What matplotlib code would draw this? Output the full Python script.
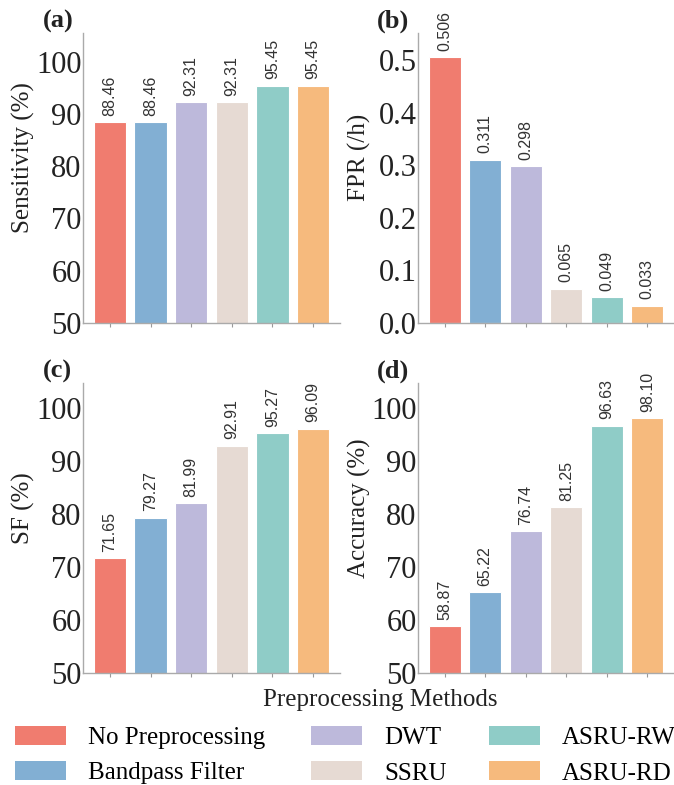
import matplotlib
matplotlib.use("Agg")
import matplotlib.pyplot as plt
from matplotlib.patches import Patch

methods = ["No Preprocessing", "Bandpass Filter", "DWT", "SSRU", "ASRU-RW", "ASRU-RD"]
colors = ["#F07C6F", "#82AFD3", "#BDB9DB", "#E6DAD3", "#8FCCC7", "#F6BA7D"]

sensitivity = [88.46, 88.46, 92.31, 92.31, 95.45, 95.45]
fpr = [0.506, 0.311, 0.298, 0.065, 0.049, 0.033]
sf = [71.65, 79.27, 81.99, 92.91, 95.27, 96.09]
accuracy = [58.87, 65.22, 76.74, 81.25, 96.63, 98.10]

plt.rcParams["font.family"] = ["Liberation Serif", "DejaVu Serif"]

W, H = 674, 785
fig = plt.figure(figsize=(W / 100, H / 100), dpi=100)


def px_axes(left, top, right, bottom):
    return fig.add_axes([left / W, 1 - bottom / H, (right - left) / W, (bottom - top) / H])


panels = [
    ("(a)", sensitivity, "Sensitivity (%)", (50, 105.5), [50, 60, 70, 80, 90, 100], "{:.2f}", (83, 33, 340, 323)),
    ("(b)", fpr, "FPR (/h)", (0, 0.552), [0.0, 0.1, 0.2, 0.3, 0.4, 0.5], "{:.3f}", (418, 33, 674, 323)),
    ("(c)", sf, "SF (%)", (50, 104.7), [50, 60, 70, 80, 90, 100], "{:.2f}", (83, 383, 340, 673)),
    ("(d)", accuracy, "Accuracy (%)", (50, 104.7), [50, 60, 70, 80, 90, 100], "{:.2f}", (418, 383, 674, 673)),
]

x = list(range(len(methods)))
for tag, vals, ylab, ylim, yticks, fmt, box in panels:
    ax = px_axes(*box)
    ax.bar(x, vals, width=0.8, color=colors, edgecolor="white", linewidth=0.8)
    ax.set_xlim(-0.66, 5.66)
    ax.set_ylim(*ylim)
    ax.set_yticks(yticks)
    if isinstance(yticks[0], float):
        ax.set_yticklabels([f"{t:.1f}" for t in yticks])
    ax.set_xticks(x)
    ax.set_xticklabels([])
    ax.tick_params(axis="x", length=3, color="#999999")
    ax.tick_params(axis="y", length=0, labelsize=22, colors="#222222", pad=1)
    for s in ["top", "right"]:
        ax.spines[s].set_visible(False)
    for s in ["left", "bottom"]:
        ax.spines[s].set_color("#aaaaaa")
        ax.spines[s].set_linewidth(1.0)
    ax.set_ylabel(ylab, fontsize=18, color="#222222", va="center")
    ax.yaxis.set_label_coords(-0.23, 0.57)
    off = (ylim[1] - ylim[0]) * 0.022
    for xi, v in zip(x, vals):
        ax.text(xi, v + off, fmt.format(v), rotation=90, ha="center", va="bottom",
                fontsize=11.5, color="#333333",
                family=["Liberation Sans Narrow", "Liberation Sans", "DejaVu Sans"])
    ax.text(-0.098, 1.04, tag, transform=ax.transAxes, fontsize=19, fontweight="bold",
            color="#222222", ha="center", va="center")

fig.text(380 / W, 1 - 700 / H, "Preprocessing Methods", fontsize=18, color="#222222",
         ha="center", va="center")

handles = [Patch(facecolor=c, edgecolor="none", label=m) for m, c in zip(methods, colors)]
col_x = [15, 311, 489]
for i, cx in enumerate(col_x):
    fig.legend(handles=handles[2 * i:2 * i + 2], loc="center left",
               bbox_to_anchor=(cx / W, 1 - 755 / H), ncol=1,
               frameon=False, fontsize=18, handlelength=2.05, handleheight=0.8,
               handletextpad=0.88, labelspacing=0.5, borderaxespad=0, borderpad=0)

fig.savefig("out.png", dpi=100)
